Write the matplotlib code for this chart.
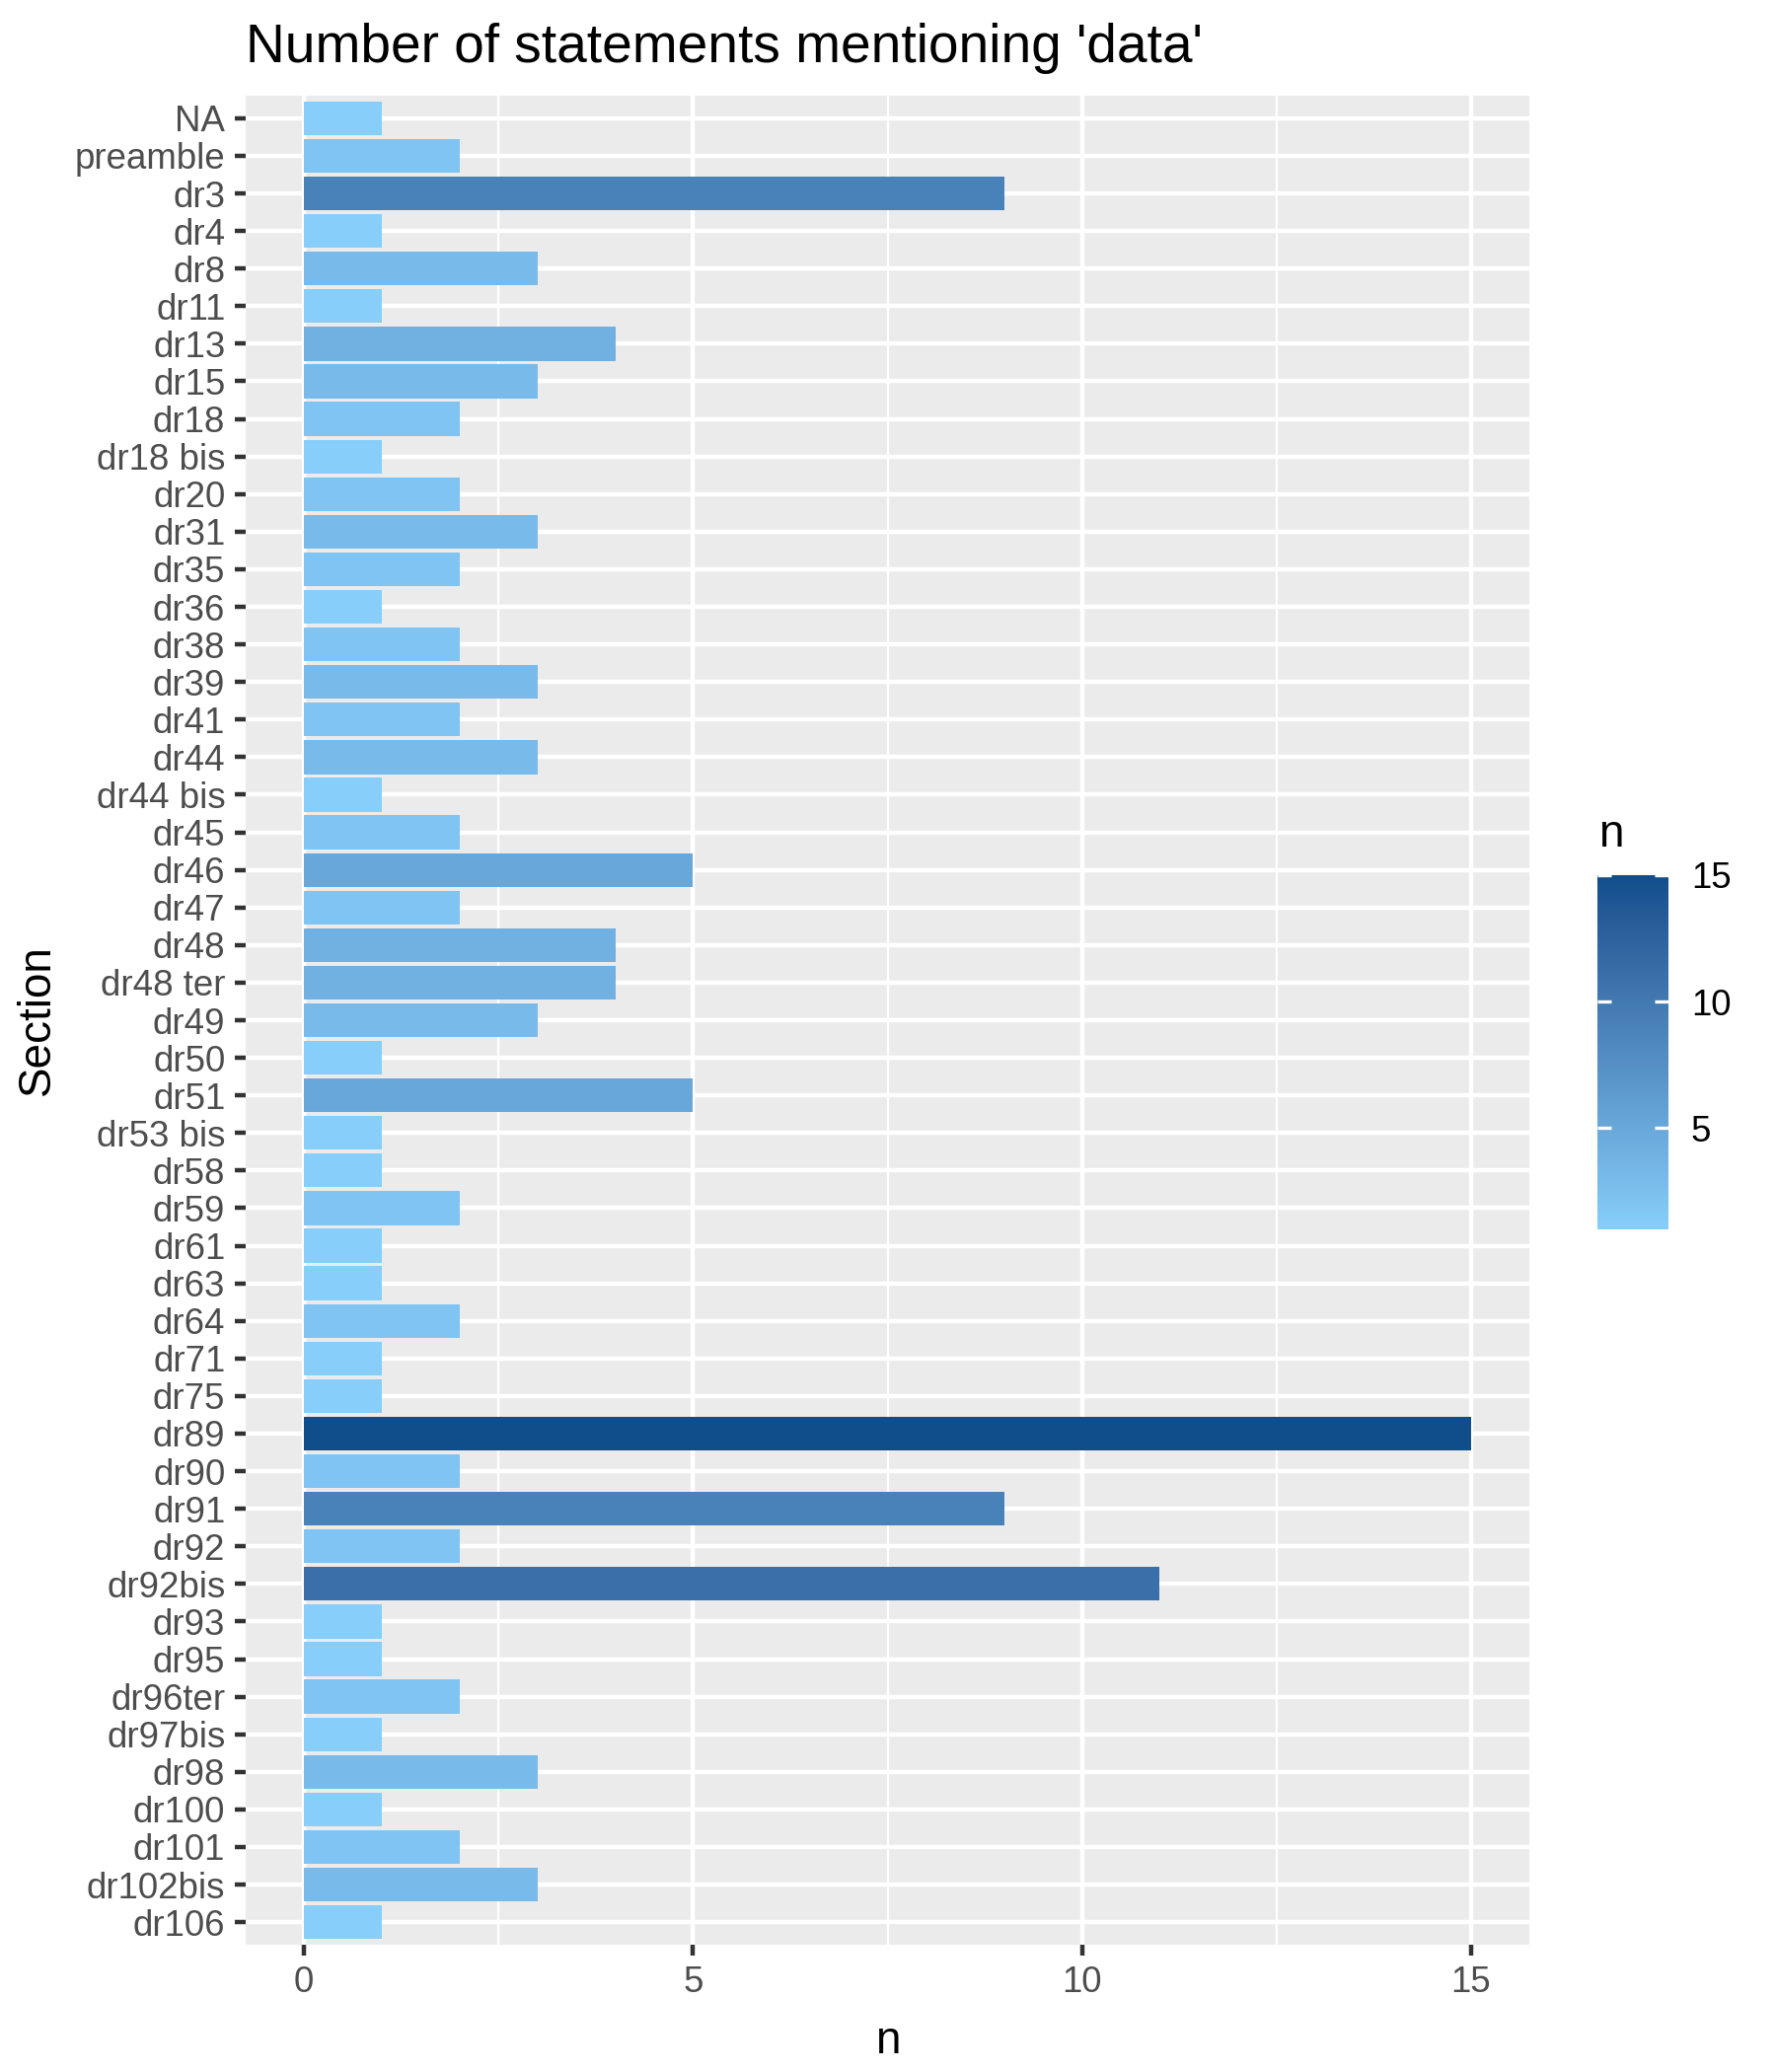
import matplotlib
matplotlib.use("Agg")
import matplotlib.pyplot as plt
import numpy as np
from matplotlib.colors import ListedColormap, Normalize, to_rgb
from matplotlib.colorbar import ColorbarBase

plt.rcParams["font.family"] = ["Liberation Sans", "DejaVu Sans"]

sections = [
    "NA", "preamble", "dr3", "dr4", "dr8", "dr11", "dr13", "dr15", "dr18",
    "dr18 bis", "dr20", "dr31", "dr35", "dr36", "dr38", "dr39", "dr41",
    "dr44", "dr44 bis", "dr45", "dr46", "dr47", "dr48", "dr48 ter", "dr49",
    "dr50", "dr51", "dr53 bis", "dr58", "dr59", "dr61", "dr63", "dr64",
    "dr71", "dr75", "dr89", "dr90", "dr91", "dr92", "dr92bis", "dr93",
    "dr95", "dr96ter", "dr97bis", "dr98", "dr100", "dr101", "dr102bis", "dr106",
]
counts = [
    1, 2, 9, 1, 3, 1, 4, 3, 2,
    1, 2, 3, 2, 1, 2, 3, 2,
    3, 1, 2, 5, 2, 4, 4, 3,
    1, 5, 1, 1, 2, 1, 1, 2,
    1, 1, 15, 2, 9, 2, 11, 1,
    1, 2, 1, 3, 1, 2, 3, 1,
]
x_ticks = [0, 5, 10, 15]
cbar_ticks = [5, 10, 15]
low_colour, high_colour = "#87CEFA", "#104E8B"


# ggplot's gradient interpolates in Lab space
M = np.array([[0.4124, 0.3576, 0.1805], [0.2126, 0.7152, 0.0722], [0.0193, 0.1192, 0.9505]])
WHITE = np.array([0.95047, 1.0, 1.08883])


def rgb_to_lab(c):
    c = np.asarray(c)
    lin = np.where(c <= 0.04045, c / 12.92, ((c + 0.055) / 1.055) ** 2.4)
    xyz = M @ lin / WHITE
    f = np.where(xyz > 0.008856, np.cbrt(xyz), 7.787 * xyz + 16 / 116)
    return np.array([116 * f[1] - 16, 500 * (f[0] - f[1]), 200 * (f[1] - f[2])])


def lab_to_rgb(lab):
    fy = (lab[0] + 16) / 116
    f = np.array([fy + lab[1] / 500, fy, fy - lab[2] / 200])
    xyz = np.where(f ** 3 > 0.008856, f ** 3, (f - 16 / 116) / 7.787) * WHITE
    lin = np.linalg.solve(M, xyz)
    c = np.where(lin <= 0.0031308, 12.92 * lin, 1.055 * np.clip(lin, 0, None) ** (1 / 2.4) - 0.055)
    return np.clip(c, 0, 1)


lab_lo, lab_hi = rgb_to_lab(to_rgb(low_colour)), rgb_to_lab(to_rgb(high_colour))
cmap = ListedColormap([lab_to_rgb(lab_lo + t * (lab_hi - lab_lo)) for t in np.linspace(0, 1, 256)])
norm = Normalize(vmin=min(counts), vmax=max(counts))

W, H = 1800, 2100
fig = plt.figure(figsize=(6, 7), dpi=300)
left, right, top, bottom = 249, 1550, 97, 1971
ax = fig.add_axes([left / W, 1 - bottom / H, (right - left) / W, (bottom - top) / H])
ax.set_facecolor("#EBEBEB")
for s in ax.spines.values():
    s.set_visible(False)

ypos = np.arange(len(sections))
ax.barh(ypos, counts, height=0.9, color=cmap(norm(np.array(counts))), zorder=3)

ax.set_xlim(-0.75, 15.75)
ax.set_ylim(len(sections) - 0.4, -0.6)
ax.set_xticks(x_ticks)
ax.set_xticks([2.5, 7.5, 12.5], minor=True)
ax.set_yticks(ypos)
ax.set_yticklabels(sections)
ax.grid(which="major", color="white", linewidth=1.07, zorder=1)
ax.grid(which="minor", axis="x", color="white", linewidth=0.53, zorder=1)
ax.set_axisbelow(True)
ax.tick_params(which="major", length=2.75, width=1.07, color="#333333",
               labelsize=8.8, labelcolor="#4D4D4D", pad=2.2)
ax.tick_params(which="minor", length=0)

ax.set_xlabel("n", fontsize=11, labelpad=5)
ax.set_ylabel("Section", fontsize=11, labelpad=3.8)
fig.text(left / W, 1 - 63 / H, "Number of statements mentioning 'data'",
         fontsize=13.2, ha="left", va="baseline")

# colour bar legend
cax = fig.add_axes([1619 / W, 1 - 1246 / H, 72 / W, 359 / H])
cb = ColorbarBase(cax, cmap=cmap, norm=norm, ticks=cbar_ticks)
cb.outline.set_visible(False)
cax.tick_params(left=True, right=True, labelleft=False, labelright=True,
                direction="in", length=3.4, width=0.8, color="white",
                labelcolor="black", labelsize=8.8, pad=5.5)
fig.text(1620 / W, 1 - 858 / H, "n", fontsize=11, ha="left", va="baseline")

fig.savefig("out.png", dpi=300, facecolor="white")
